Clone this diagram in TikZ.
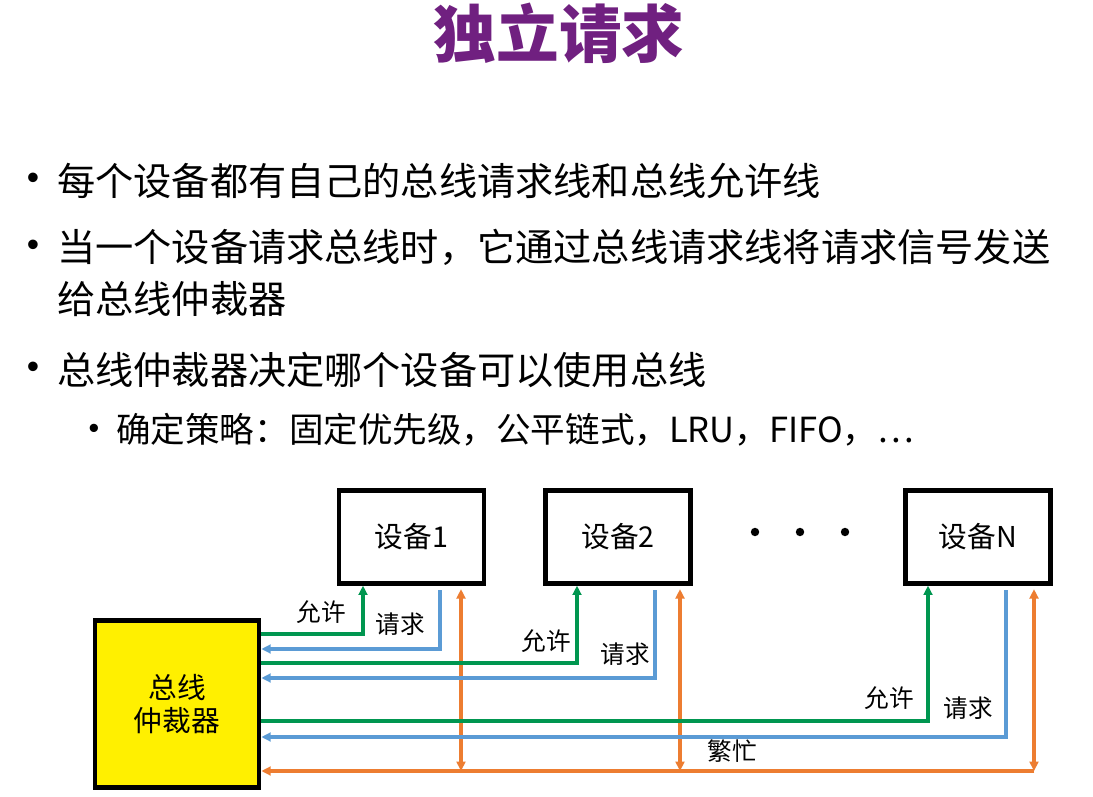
\documentclass[tikz,border=0pt]{standalone}
\usepackage{fontspec}
\setmainfont{Noto Sans CJK SC}
\newfontfamily\bulletfont{Liberation Sans}
\usetikzlibrary{arrows.meta}
\definecolor{titlepurple}{RGB}{112,32,128}
\definecolor{grantgreen}{RGB}{0,150,80}
\definecolor{reqblue}{RGB}{91,155,213}
\definecolor{busyorange}{RGB}{237,125,49}
\definecolor{arbyellow}{RGB}{255,240,0}

\begin{document}
\begin{tikzpicture}[x=0.03cm,y=-0.03cm,
  devbox/.style={draw,line width=4pt,minimum width=124pt,minimum height=79pt,
    font=\fontsize{24.5}{28}\selectfont},
  arbbox/.style={draw,fill=arbyellow,line width=4pt,minimum width=140pt,minimum height=142pt,
    align=center,font=\fontsize{24.5}{27.5}\selectfont},
  bullettext/.style={anchor=west,inner sep=0pt,font=\fontsize{32.6}{44}\selectfont},
  subtext/.style={anchor=west,inner sep=0pt,font=\fontsize{29.5}{36}\selectfont},
  dot/.style={inner sep=0pt,font=\bulletfont\fontsize{30}{30}\selectfont},
  lbl/.style={inner sep=0pt,font=\fontsize{21}{24}\selectfont},
  grantline/.style={grantgreen,line width=3.4pt,-{Triangle[length=8pt,width=7.5pt]}},
  reqline/.style={reqblue,line width=3.4pt,shorten <=4pt,-{Triangle[length=8pt,width=7.5pt]}},
  busyline/.style={busyorange,line width=3.4pt}]
  \fill[white] (0,0) rectangle (1093,797);
  \useasboundingbox (0,0) rectangle (1093,797);
  % title and bullet list
  \node[font=\fontsize{53.5}{60}\selectfont\bfseries,text=titlepurple] (title) at (559,33) {独立请求};
  \node[dot] (b1dot) at (33,181) {•};
  \node[bullettext] (b1) at (57,181) {每个设备都有自己的总线请求线和总线允许线};
  \node[dot] (b2dot) at (33,248) {•};
  \node[bullettext,anchor=north west,align=left] (b2) at (57,229)
    {当一个设备请求总线时，它通过总线请求线将请求信号发送\\给总线仲裁器};
  \node[dot] (b3dot) at (33,370) {•};
  \node[bullettext] (b3) at (57,370) {总线仲裁器决定哪个设备可以使用总线};
  \node[dot,font=\bulletfont\fontsize{26}{26}\selectfont] (s1dot) at (94,431) {•};
  \node[subtext] (s1) at (116,430) {确定策略：固定优先级，公平链式，LRU，FIFO，…};
  % devices and the arbiter
  \node[devbox] (dev1) at (411.5,537) {设备1};
  \node[devbox] (dev2) at (618,537) {设备2};
  \node[devbox] (devN) at (978,537) {设备N};
  \foreach \xx in {755,800,845}
    \fill (\xx,532) circle[radius=3.6pt];
  \node[arbbox] (arb) at (177,704) {总线\\仲裁器};
  % per device: grant x/y, request x/y, busy x, label positions
  \foreach \dev/\gx/\gy/\rx/\ry/\bx/\glx/\gly/\rlx/\rly in {
    dev1/363/634/440/649/461/321/612/400/624,
    dev2/577/663/655/678/680/546/641/625/654,
    devN/928/721/1006/737/1034/889/698/968/708} {
    \draw[grantline] (arb.east |- 0,\gy) -| (\dev.south -| \gx,0);
    \draw[reqline] (\dev.south -| \rx,0) |- (arb.east |- 0,\ry);
    \draw[busyline,{Triangle[length=8pt,width=7.5pt]}-{Triangle[length=8pt,width=7.5pt]},shorten <=3pt]
      (\dev.south -| \bx,0) -- (\bx,771);
    \node[lbl] (grant-\dev) at (\glx,\gly) {允许};
    \node[lbl] (req-\dev) at (\rlx,\rly) {请求};
  }
  % shared busy line
  \coordinate (busN) at (1034,771);
  \draw[busyline,-{Triangle[length=8pt,width=7.5pt]}] (busN) -- (arb.east |- busN);
  \node[lbl] (busytext) at (732,751) {繁忙};
\end{tikzpicture}
\end{document}
